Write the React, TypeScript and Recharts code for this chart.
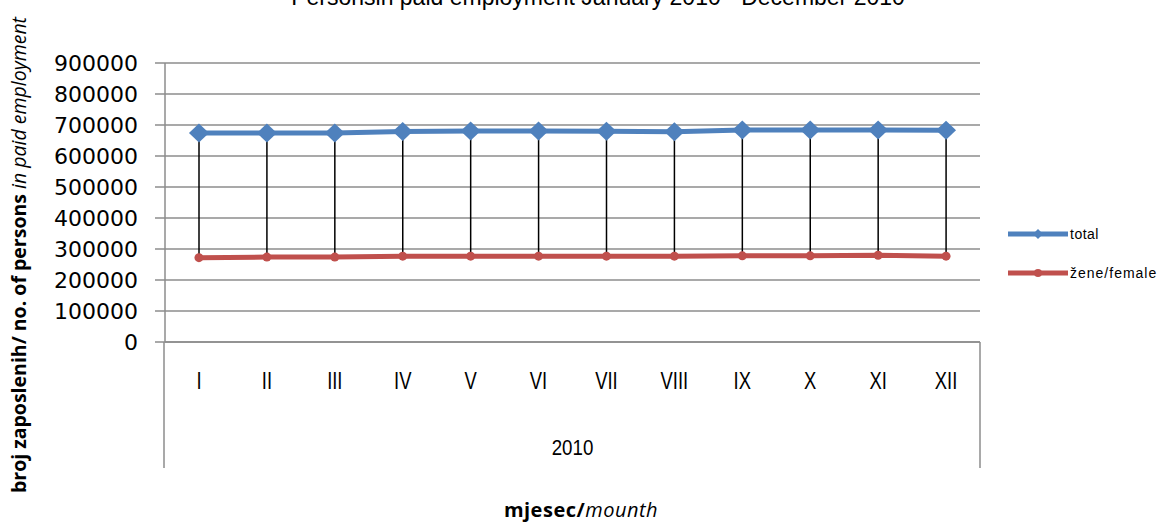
import React from 'react';
import { ComposedChart, CartesianGrid, XAxis, YAxis, Line, Bar } from 'recharts';

const months = ['I', 'II', 'III', 'IV', 'V', 'VI', 'VII', 'VIII', 'IX', 'X', 'XI', 'XII'];
const totalValues = [674000, 674000, 674000, 679000, 681000, 681000, 680000, 678000, 684000, 684000, 684000, 683000];
const femaleValues = [272000, 274000, 274000, 277000, 277000, 277000, 277000, 277000, 278000, 278000, 280000, 277000];
const yTicks = [0, 100000, 200000, 300000, 400000, 500000, 600000, 700000, 800000, 900000];
const yearLabel = '2010';
const seriesNames = ['total', 'žene/female'];

const data = months.map((m, i) => ({ month: m, total: totalValues[i], female: femaleValues[i] }));

const W = 1162;
const H = 522;
const margin = { top: 63, right: 182, bottom: 54, left: 0 };
const yAxisWidth = 165;
const xAxisHeight = 126;

const BLUE = '#4F81BD';
const RED = '#C0504D';
const GRID = '#8c8c8c';
const NARROW = "'Liberation Sans Narrow', 'Liberation Sans', sans-serif";

const Diamond = (props: any) => {
	const { cx, cy } = props;
	if (cx == null || cy == null) return null;
	return <polygon points={`${cx - 10},${cy} ${cx},${cy - 9.5} ${cx + 10},${cy} ${cx},${cy + 9.5}`} fill={BLUE} />;
};

const Circle = (props: any) => {
	const { cx, cy } = props;
	if (cx == null || cy == null) return null;
	return <circle cx={cx} cy={cy} r={4.5} fill={RED} />;
};

const DropLine = (props: any) => {
	const { x, y, width, height } = props;
	const cx = x + width / 2;
	return <line x1={cx} x2={cx} y1={y} y2={y + height} stroke='#000' strokeWidth={1.5} />;
};

const MonthTick = (props: any) => {
	const { x, y, payload } = props;
	return (
		<text
			transform={`translate(${x},${y + 39}) scale(0.8,1)`}
			textAnchor='middle'
			fontFamily={NARROW}
			fontSize={23}
			fill='#000'
		>
			{payload.value}
		</text>
	);
};

// frame under the category axis, legend and titles
const Decorations = () => {
	const left = yAxisWidth;
	const right = W - margin.right;
	const axisY = H - margin.bottom - xAxisHeight;
	const bottom = H - margin.bottom;
	const lx = right + 28;
	return (
		<g>
			<line x1={left - 1} x2={left - 1} y1={axisY} y2={bottom} stroke={GRID} strokeWidth={1.5} />
			<line x1={right} x2={right} y1={axisY} y2={bottom} stroke={GRID} strokeWidth={1.5} />
			<text
				transform={`translate(${(left + right) / 2},455) scale(0.85,1)`}
				textAnchor='middle'
				fontFamily={NARROW}
				fontSize={22}
				fill='#000'
			>
				{yearLabel}
			</text>

			<line x1={lx} x2={lx + 60} y1={234} y2={234} stroke={BLUE} strokeWidth={5} />
			<polygon points={`${lx + 25},234 ${lx + 30},229 ${lx + 35},234 ${lx + 30},239`} fill={BLUE} />
			<text x={lx + 62} y={239} fontFamily="'Liberation Sans', sans-serif" fontSize={14} letterSpacing={0.5} fill='#000'>
				{seriesNames[0]}
			</text>
			<line x1={lx} x2={lx + 60} y1={273} y2={273} stroke={RED} strokeWidth={5} />
			<circle cx={lx + 30} cy={273} r={4} fill={RED} />
			<text x={lx + 62} y={278} fontFamily="'Liberation Sans', sans-serif" fontSize={14} letterSpacing={1} fill='#000'>
				{seriesNames[1]}
			</text>

			<text x={598} y={5} textAnchor='middle' fontFamily={NARROW} fontSize={23} fill='#000'>
				Personsin paid employment  January 2010 - December 2010
			</text>
			<text x={581} y={517} textAnchor='middle' fontFamily="'Open Sans', sans-serif" fontSize={20} letterSpacing={0.5} fill='#000'>
				<tspan fontWeight='bold'>mjesec/</tspan>
				<tspan fontStyle='italic'>mounth</tspan>
			</text>
			<text
				transform='translate(26,255) rotate(-90)'
				textAnchor='middle'
				fontFamily="'Open Sans', sans-serif"
				fontSize={19.5}
				fill='#000'
			>
				<tspan fontWeight='bold'>broj zaposlenih/ no. of persons </tspan>
				<tspan fontStyle='italic'> in paid employment</tspan>
			</text>
		</g>
	);
};

export default function App() {
	return (
		<div style={{ position: 'absolute', left: 0, top: 0, width: W, height: H, background: '#fff' }}>
			<ComposedChart width={W} height={H} data={data} margin={margin}>
				<CartesianGrid vertical={false} stroke={GRID} strokeWidth={1.5} />
				<XAxis
					dataKey='month'
					height={xAxisHeight}
					tickLine={false}
					axisLine={{ stroke: GRID, strokeWidth: 1.5 }}
					tick={<MonthTick />}
					interval={0}
				/>
				<YAxis
					width={yAxisWidth}
					domain={[0, 900000]}
					ticks={yTicks}
					interval={0}
					tickSize={10}
					tickMargin={17}
					tickLine={{ stroke: GRID, strokeWidth: 1.5 }}
					axisLine={{ stroke: GRID, strokeWidth: 1.5 }}
					tick={{ fontFamily: "'DejaVu Sans', sans-serif", fontSize: 22, fill: '#000' }}
				/>
				<Line
					dataKey='total'
					stroke={BLUE}
					strokeWidth={5}
					dot={<Diamond />}
					activeDot={false}
					isAnimationActive={false}
				/>
				<Line
					dataKey='female'
					stroke={RED}
					strokeWidth={5}
					dot={<Circle />}
					activeDot={false}
					isAnimationActive={false}
				/>
				<Bar
					dataKey={(d: any) => [d.female, d.total]}
					shape={<DropLine />}
					barSize={6}
					isAnimationActive={false}
				/>
				<Decorations />
			</ComposedChart>
		</div>
	);
}
